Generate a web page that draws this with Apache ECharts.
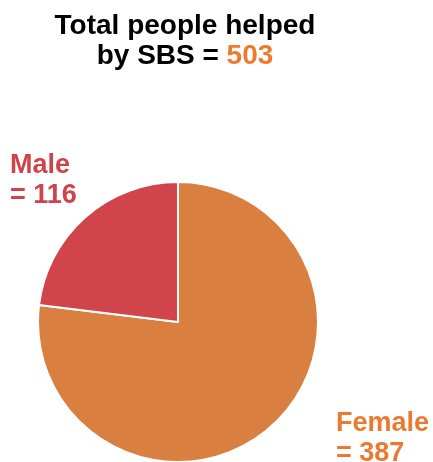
<!DOCTYPE html>
<html>
  <head>
    <meta charset="UTF-8" />
    <script src="https://cdn.jsdelivr.net/npm/echarts@6/dist/echarts.min.js"></script>
    <style>
      body { margin: 0; background: #fff; }
    </style>
  </head>
  <body>
    <div id="main"></div>
    <script>
      const width = 433;
      const height = 462;
      const main = document.getElementById('main');
      main.style.width = `${width}px`;
      main.style.height = `${height}px`;

      const categories = ['Female', 'Male'];
      const values = [387, 116];
      const colors = ['#d98040', '#d2444b'];
      const labelColors = ['#ea7a31', '#d0434b'];
      const labelPos = [[336, 409], [10, 151]];

      const total = values.reduce((a, b) => a + b, 0);
      const font = '"Liberation Sans", Arial, sans-serif';

      const myChart = echarts.init(main);
      const option = {
        animation: false,
        title: {
          text: 'Total people helped\nby SBS = {o|' + total + '}',
          left: 180,
          textAlign: 'center',
          top: 6,
          textStyle: {
            fontFamily: font,
            fontSize: 28,
            fontWeight: 'bold',
            color: '#000',
            lineHeight: 30,
            rich: {
              o: {
                fontFamily: font,
                fontSize: 28,
                fontWeight: 'bold',
                color: '#ef7a2c',
                lineHeight: 30,
              },
            },
          },
        },
        series: [
          {
            type: 'pie',
            center: [178, 322],
            radius: [0, 140],
            startAngle: 90,
            clockwise: true,
            itemStyle: {
              borderColor: '#fff',
              borderWidth: 2,
            },
            labelLine: { show: false },
            label: {
              show: true,
              formatter: '{b}\n= {c}',
              fontFamily: font,
              fontSize: 27,
              fontWeight: 'bold',
              lineHeight: 30,
              overflow: 'none',
              width: 120,
            },
            labelLayout: (params) => ({
              x: labelPos[params.dataIndex][0],
              y: labelPos[params.dataIndex][1],
              align: 'left',
              verticalAlign: 'top',
            }),
            data: categories.map((name, i) => ({
              name,
              value: values[i],
              itemStyle: { color: colors[i] },
              label: { color: labelColors[i] },
            })),
          },
        ],
      };
      myChart.setOption(option);
    </script>
  </body>
</html>
